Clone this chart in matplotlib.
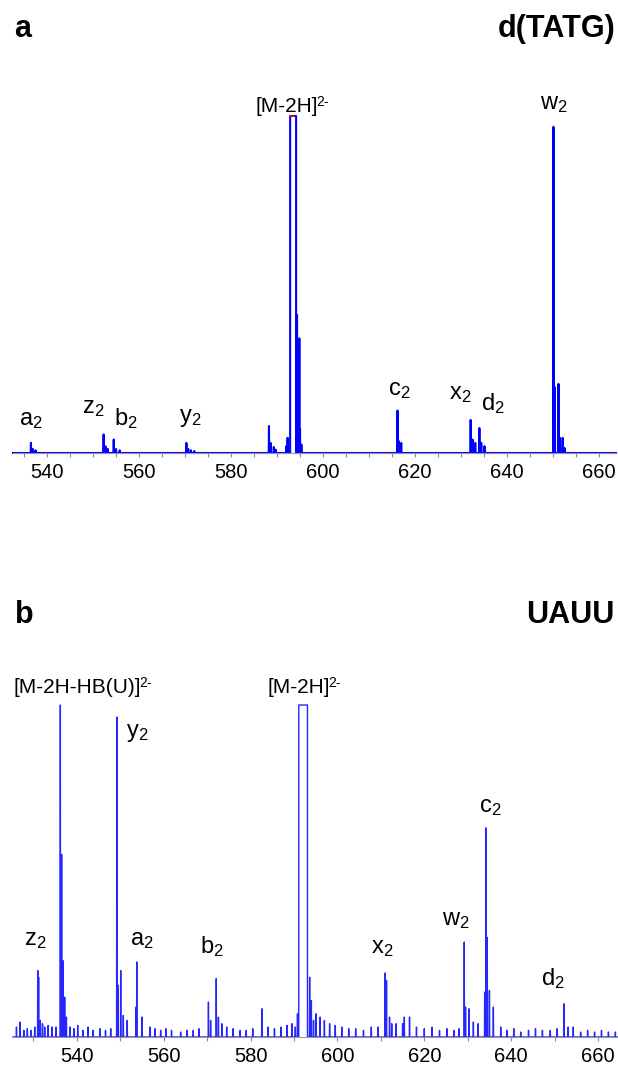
import matplotlib
matplotlib.use('Agg')
import matplotlib.pyplot as plt
from matplotlib.ticker import MultipleLocator

plt.rcParams['font.family'] = ['Liberation Sans', 'DejaVu Sans']
plt.rcParams['mathtext.fontset'] = 'custom'
plt.rcParams['mathtext.rm'] = 'Liberation Sans'
plt.rcParams['mathtext.it'] = 'Liberation Sans'

# ---- panel a : d(TATG) ----
top_mz = [536.5, 536.9, 537.5, 552.3, 552.7, 553.2, 554.5, 555.0, 555.8,
          570.3, 570.7, 571.3, 572.0, 588.25, 588.6, 589.3, 589.7, 592.0,
          592.3, 594.35, 594.85, 595.0, 595.3, 616.2, 616.5, 617.0, 632.1,
          632.5, 633.1, 634.0, 634.4, 635.1, 650.1, 650.4, 651.2, 651.5,
          652.1, 652.5]
top_h = [0.03, 0.012, 0.008, 0.055, 0.02, 0.012, 0.04, 0.012, 0.008,
         0.03, 0.012, 0.008, 0.006, 0.08, 0.03, 0.018, 0.01, 0.02,
         0.045, 0.41, 0.34, 0.07, 0.025, 0.126, 0.035, 0.03, 0.098,
         0.04, 0.03, 0.074, 0.03, 0.02, 0.968, 0.195, 0.205, 0.045,
         0.045, 0.015]
top_sat = (592.85, 594.15)          # saturated [M-2H]2- peak
top_xlim = (532.6, 663.7)
top_labels = [("a", 534.0, 0.083), ("z", 547.7, 0.119), ("b", 554.6, 0.083),
              ("y", 568.7, 0.092), ("c", 614.1, 0.172), ("x", 627.4, 0.16),
              ("d", 634.4, 0.128), ("w", 647.2, 1.02)]

# ---- panel b : UAUU ----
bot_mz = [531.0, 531.2, 531.6, 532.1, 536.2, 536.5, 536.8, 537.2, 537.6,
          549.2, 549.5, 550.1, 550.7, 553.6, 553.8, 555.0, 570.3, 570.8,
          572.1, 572.6, 573.4, 582.6, 590.3, 590.8, 593.6, 594.0, 594.5,
          611.0, 611.3, 612.0, 612.5, 615.0, 629.2, 629.5, 630.3, 631.3,
          633.9, 634.2, 634.5, 635.0, 635.9, 652.2, 653.1, 654.3]
bot_h = [0.20, 0.18, 0.05, 0.04, 1.0, 0.55, 0.23, 0.12, 0.06,
         0.964, 0.156, 0.20, 0.065, 0.09, 0.226, 0.06, 0.105, 0.05,
         0.176, 0.06, 0.04, 0.085, 0.03, 0.07, 0.18, 0.11, 0.05,
         0.193, 0.17, 0.06, 0.04, 0.04, 0.286, 0.09, 0.085, 0.045,
         0.135, 0.63, 0.30, 0.14, 0.09, 0.10, 0.03, 0.03]
noise_mz = [526.1, 526.9, 527.8, 528.6, 529.5, 530.3, 532.6, 533.4, 534.3, 535.2,
            538.4, 539.3, 540.2, 541.4, 542.6, 543.7, 545.3, 546.6, 547.8, 551.6,
            556.8, 558.0, 559.3, 560.5, 561.8, 563.9, 565.4, 566.8, 568.1, 574.5,
            576.0, 577.6, 579.0, 580.5, 584.0, 585.5, 587.0, 588.4, 589.5, 595.1,
            596.0, 597.0, 598.2, 599.5, 601.0, 602.6, 604.2, 606.0, 607.8, 609.3,
            613.5, 615.4, 616.6, 618.2, 620.0, 621.8, 623.5, 625.2, 626.8, 628.0,
            632.4, 637.6, 639.0, 640.6, 642.2, 644.0, 645.6, 647.2, 649.0, 650.6,
            656.0, 657.6, 659.2, 660.8, 662.4, 664.0]
noise_h = [0.03, 0.045, 0.02, 0.025, 0.02, 0.03, 0.03, 0.035, 0.03, 0.03,
           0.03, 0.025, 0.035, 0.02, 0.03, 0.02, 0.025, 0.02, 0.025, 0.05,
           0.03, 0.025, 0.02, 0.025, 0.02, 0.015, 0.02, 0.02, 0.025, 0.03,
           0.025, 0.02, 0.02, 0.025, 0.03, 0.025, 0.03, 0.035, 0.04, 0.07,
           0.06, 0.05, 0.04, 0.035, 0.03, 0.025, 0.025, 0.02, 0.03, 0.03,
           0.04, 0.06, 0.06, 0.03, 0.025, 0.03, 0.02, 0.025, 0.02, 0.025,
           0.04, 0.03, 0.02, 0.025, 0.015, 0.02, 0.025, 0.02, 0.02, 0.025,
           0.015, 0.02, 0.015, 0.02, 0.015, 0.015]
bot_sat = (591.1, 593.1)
bot_xlim = (525.3, 664.6)
bot_labels = [("z", 527.8, 0.277), ("y", 551.4, 0.904), ("a", 552.2, 0.277),
              ("b", 568.3, 0.253), ("x", 607.8, 0.253), ("w", 624.0, 0.337),
              ("c", 632.7, 0.678), ("d", 646.8, 0.157)]

ticklabels = [540, 560, 580, 600, 620, 640, 660]
narrow = ['Liberation Sans Narrow', 'Liberation Sans']


def profile(mz, h, sat, xlim, hw=0.05):
    segs = [([m - hw, m, m + hw], [0, v, 0]) for m, v in zip(mz, h)]
    s, e = sat
    segs.append(([s, s, e, e], [0, 1, 1, 0]))
    segs.sort(key=lambda t: t[0][0])
    xs, ys = [xlim[0]], [0]
    for sx, sy in segs:
        xs += sx
        ys += sy
    xs.append(xlim[1])
    ys.append(0)
    return xs, ys


def setup(ax, xlim, minor):
    ax.set_xlim(*xlim)
    ax.set_ylim(0, 1)
    for s in ['top', 'right', 'left']:
        ax.spines[s].set_visible(False)
    ax.spines['bottom'].set_color('#9a9a9a')
    ax.set_yticks([])
    ax.set_xticks(ticklabels)
    ax.xaxis.set_minor_locator(MultipleLocator(minor))
    ax.tick_params(axis='x', which='both', direction='out', length=3,
                   color='#8a8a8a', width=0.8)
    ax.tick_params(axis='x', which='major', labelsize=14.5, pad=4)


def ion_label(ax, x, y, txt):
    t = ax.text(x, y, txt, fontsize=15, ha='left', va='baseline', family=narrow)
    ax.annotate('2-', xy=(1, 1), xycoords=t, xytext=(-1.5, 1.5),
                textcoords='offset points', fontsize=10, ha='left', va='top',
                family=narrow)


fig = plt.figure(figsize=(6.18, 10.66), dpi=100)

# panel a
ax1 = fig.add_axes([13 / 618, 613 / 1066, 603 / 618, 337 / 1066])
setup(ax1, top_xlim, 5)
xs, ys = profile(top_mz, top_h, top_sat, top_xlim)
ax1.plot(xs, ys, color='#0000ff', lw=1.5, clip_on=False)
ax1.plot([top_sat[0], top_sat[1] - 0.35], [1, 1], color='red', lw=1.2, clip_on=False)
for letter, x, y in top_labels:
    ax1.text(x, y, letter + '$_2$', fontsize=17, ha='left', va='baseline')
ion_label(ax1, 585.4, 1.012, '[M-2H]')

# panel b
ax2 = fig.add_axes([13 / 618, 29 / 1066, 605 / 618, 332 / 1066])
setup(ax2, bot_xlim, 10)
xs, ys = profile(bot_mz + noise_mz, bot_h + noise_h, bot_sat, bot_xlim)
ax2.plot(xs, ys, color='#0000ff', lw=1.0, alpha=0.85, clip_on=False)
for letter, x, y in bot_labels:
    ax2.text(x, y, letter + '$_2$', fontsize=17, ha='left', va='baseline')
ion_label(ax2, 525.5, 1.036, '[M-2H-HB(U)]')
ion_label(ax2, 584.0, 1.036, '[M-2H]')

# panel titles
fig.text(14 / 618, 1 - 37 / 1066, 'a', fontsize=22, weight='bold', va='baseline')
fig.text(615.5 / 618, 1 - 37 / 1066, 'd(TATG)', fontsize=22, weight='bold',
         ha='right', va='baseline')
fig.text(15 / 618, 1 - 623 / 1066, 'b', fontsize=22, weight='bold', va='baseline')
fig.text(615 / 618, 1 - 623 / 1066, 'UAUU', fontsize=22, weight='bold',
         ha='right', va='baseline')

fig.savefig('out.png', dpi=100)
